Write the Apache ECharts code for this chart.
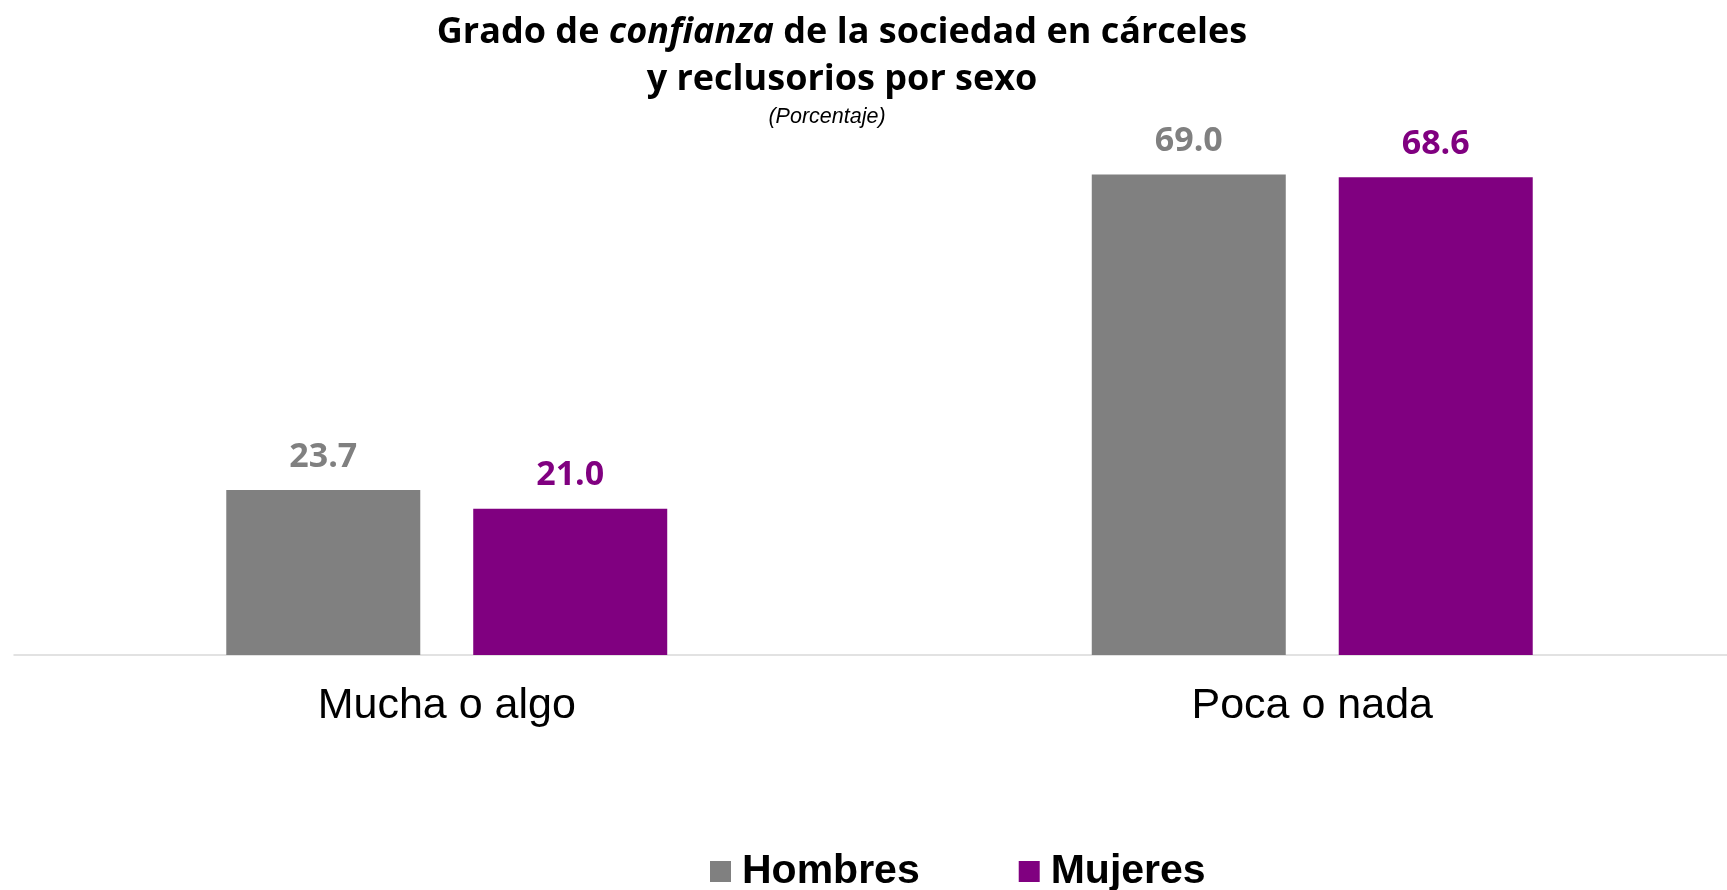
<!DOCTYPE html>
<html>
<head>
<meta charset="utf-8">
<script src="https://cdn.jsdelivr.net/npm/echarts@6/dist/echarts.min.js"></script>
<style>
html,body{margin:0;padding:0;background:#fff;overflow:hidden;}
#chart{width:1745px;height:890px;}
</style>
</head>
<body>
<div id="chart"></div>
<script>
const categories = ['Mucha o algo', 'Poca o nada'];
const seriesNames = ['Hombres', 'Mujeres'];
const hombres = [23.7, 69.0];
const mujeres = [21.0, 68.6];

const GRAY = '#808080';
const PURPLE = '#800080';

const chart = echarts.init(document.getElementById('chart'));
const titleBase = {fontFamily: 'Open Sans', fontWeight: 'bold', fontSize: 36, lineHeight: 47, color: '#000'};
const labelStyle = (c) => ({
  show: true, position: 'top', distance: 16,
  fontFamily: 'Open Sans', fontWeight: 'bold', fontSize: 34, lineHeight: 34, color: c,
  formatter: p => p.value.toFixed(1)
});

chart.setOption({
  animation: false,
  backgroundColor: '#fff',
  title: [{
    text: '{b|Grado de }{i|confianza}{b| de la sociedad en cárceles}\n{b|y reclusorios por sexo}',
    left: 842, top: 9, textAlign: 'center', padding: 0,
    textStyle: {
      rich: {
        b: titleBase,
        i: Object.assign({}, titleBase, {fontStyle: 'italic'})
      }
    }
  }, {
    text: '(Porcentaje)',
    left: 827, top: 106, textAlign: 'center', padding: 0,
    textStyle: {fontFamily: 'Liberation Sans', fontStyle: 'italic', fontWeight: 'normal', fontSize: 21.5, lineHeight: 22, color: '#000'}
  }],
  legend: {
    data: seriesNames,
    left: 710, top: 851, padding: 0,
    itemWidth: 21, itemHeight: 21, itemGap: 99,
    icon: 'rect',
    textStyle: {fontFamily: 'Liberation Sans', fontWeight: 'bold', fontSize: 41, lineHeight: 41, color: '#000', padding: [0, 0, 0, 6]}
  },
  grid: {left: 14, right: 0, top: 98, bottom: 235, containLabel: false},
  xAxis: {
    type: 'category',
    data: categories,
    axisLine: {show: true, lineStyle: {color: '#d9d9d9', width: 1.5}},
    axisTick: {show: false},
    axisLabel: {margin: 30, fontFamily: 'Liberation Sans', fontSize: 43, lineHeight: 43, color: '#000'}
  },
  yAxis: {type: 'value', min: 0, max: 80, show: false, splitLine: {show: false}},
  series: [{
    name: seriesNames[0], type: 'bar', data: hombres,
    barWidth: 194, barGap: '27.3%',
    itemStyle: {color: GRAY},
    label: labelStyle(GRAY)
  }, {
    name: seriesNames[1], type: 'bar', data: mujeres,
    barWidth: 194, barGap: '27.3%',
    itemStyle: {color: PURPLE},
    label: labelStyle(PURPLE)
  }]
});
</script>
</body>
</html>
